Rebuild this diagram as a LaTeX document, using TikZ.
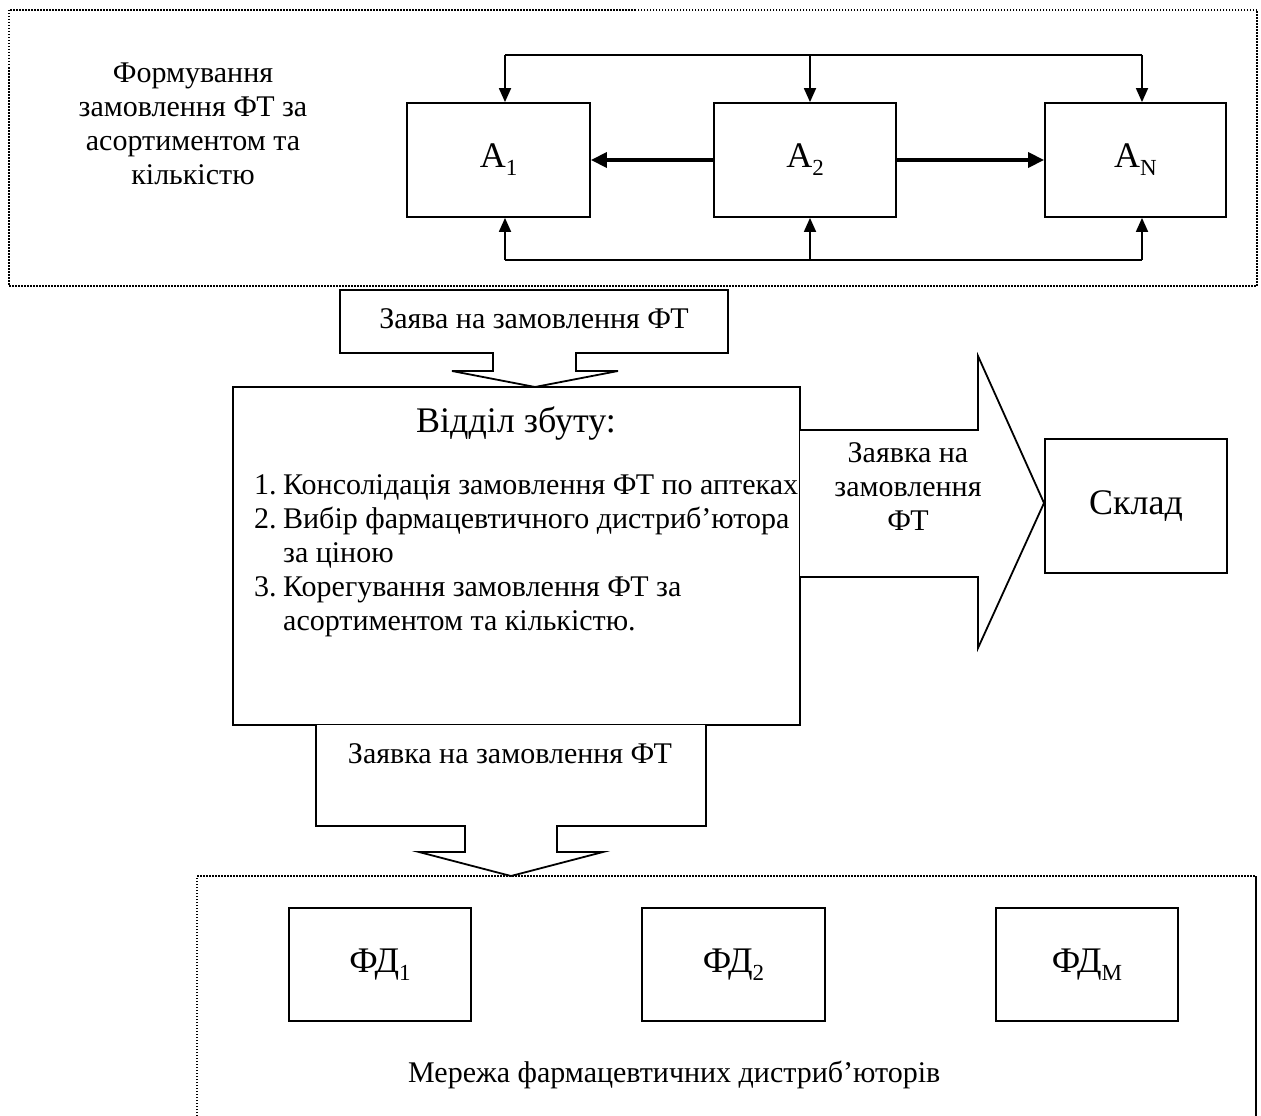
\documentclass[tikz,border=0pt]{standalone}
\usepackage{fontspec}
\setmainfont{Liberation Serif}
\usetikzlibrary{arrows.meta}
\newcommand\bodytext{\fontsize{30}{34}\selectfont}
\newcommand\largetext{\fontsize{36}{40}\selectfont}
\newcommand\lowidx[1]{\raisebox{-0.22em}{\fontsize{23}{23}\selectfont #1}}
\begin{document}
\begin{tikzpicture}[x=1pt,y=-1pt,
  box/.style={draw, line width=1.8pt, inner sep=0pt, font=\largetext},
  frame/.style={line width=1.5pt, dash pattern=on 1.5pt off 1.5pt},
  bus/.style={line width=1.8pt},
  down/.style={bus, -{Triangle[length=14pt,width=12pt]}},
  side/.style={line width=3.5pt, -{Triangle[length=16pt,width=15pt]}},
  blockarrow/.style={draw, line width=1.8pt, fill=white, line join=miter},
  label/.style={inner sep=0pt, font=\bodytext}]

\useasboundingbox (0,0) rectangle (1261,1116);
\fill[white] (0,0) rectangle (1261,1116);

% ---- upper group: pharmacies ----
\draw[frame] (9,10) rectangle (1257,286);
\node[label, anchor=base] (formlbl) at (193,82)
  {\begin{tabular}[t]{@{}c@{}}Формування\\замовлення ФТ за\\асортиментом та\\кількістю\end{tabular}};

\node[box, minimum width=183pt, minimum height=114pt] (A1) at (498.5,160) {A\lowidx{1}};
\node[box, minimum width=182pt, minimum height=114pt] (A2) at (805,160) {A\lowidx{2}};
\node[box, minimum width=181pt, minimum height=114pt] (AN) at (1135.5,160) {A\lowidx{N}};

\coordinate (t1) at (505,55);  \coordinate (t2) at (810,55);  \coordinate (t3) at (1142,55);
\coordinate (b1) at (505,260); \coordinate (b2) at (810,260); \coordinate (b3) at (1142,260);
\draw[bus] (t1) -- (t3);
\draw[bus] (b1) -- (b3);
\draw[down] (t1) -- (t1 |- A1.north);
\draw[down] (t2) -- (t2 |- A2.north);
\draw[down] (t3) -- (t3 |- AN.north);
\draw[down] (b1) -- (b1 |- A1.south);
\draw[down] (b2) -- (b2 |- A2.south);
\draw[down] (b3) -- (b3 |- AN.south);
\draw[side] (A2.west) -- (A1.east);
\draw[side] (A2.east) -- (AN.west);

% ---- request arrow into the sales department ----
\draw[blockarrow] (340,290) -- (728,290) -- (728,353) -- (576,353) -- (576,371)
  -- (618,371) -- (535,387) -- (452,371) -- (493,371) -- (493,353) -- (340,353) -- cycle;
\node[label, anchor=base] (reqin) at (534,328) {Заява на замовлення ФТ};

% ---- sales department ----
\node[box, minimum width=567pt, minimum height=338pt] (sales) at (516.5,556) {};
\node[inner sep=0pt, font=\largetext, anchor=base] (salestitle) at (516,432) {Відділ збуту:};
\node[label, anchor=base west] (steps) at (254,494)
  {\begin{tabular}[t]{@{}l@{\hspace{6.5pt}}l@{}}
   1. & Консолідація замовлення ФТ по аптеках\\
   2. & Вибір фармацевтичного дистриб’ютора\\
      & за ціною\\
   3. & Корегування замовлення ФТ за\\
      & асортиментом та кількістю.
   \end{tabular}};

% ---- request arrow to the warehouse ----
\draw[blockarrow] (800,430) -- (978,430) -- (978,356) -- (1044,503) -- (978,648)
  -- (978,577) -- (800,577);
\node[label, anchor=base] (reqwh) at (908,462)
  {\begin{tabular}[t]{@{}c@{}}Заявка на\\замовлення\\ФТ\end{tabular}};
\node[box, minimum width=182pt, minimum height=134pt] (store) at (1136,506) {Склад};

% ---- request arrow to the distributors ----
\draw[blockarrow] (706,725) -- (706,826) -- (557,826) -- (557,852) -- (603,852)
  -- (511,876) -- (419,852) -- (465,852) -- (465,826) -- (316,826) -- (316,725);
\node[label, anchor=base] (reqdist) at (510,763) {Заявка на замовлення ФТ};

% ---- lower group: distributors ----
\draw[frame] (197,1116) -- (197,876) -- (1256,876);
\draw[line width=2.5pt] (1256,876) -- (1256,1116);
\node[box, minimum width=182pt, minimum height=113pt] (FD1) at (380,964.5) {ФД\lowidx{1}};
\node[box, minimum width=183pt, minimum height=113pt] (FD2) at (733.5,964.5) {ФД\lowidx{2}};
\node[box, minimum width=182pt, minimum height=113pt] (FDM) at (1087,964.5) {ФД\lowidx{М}};
\node[label, anchor=base west] (netlbl) at (408,1082) {Мережа фармацевтичних дистриб’юторів};
\end{tikzpicture}
\end{document}
